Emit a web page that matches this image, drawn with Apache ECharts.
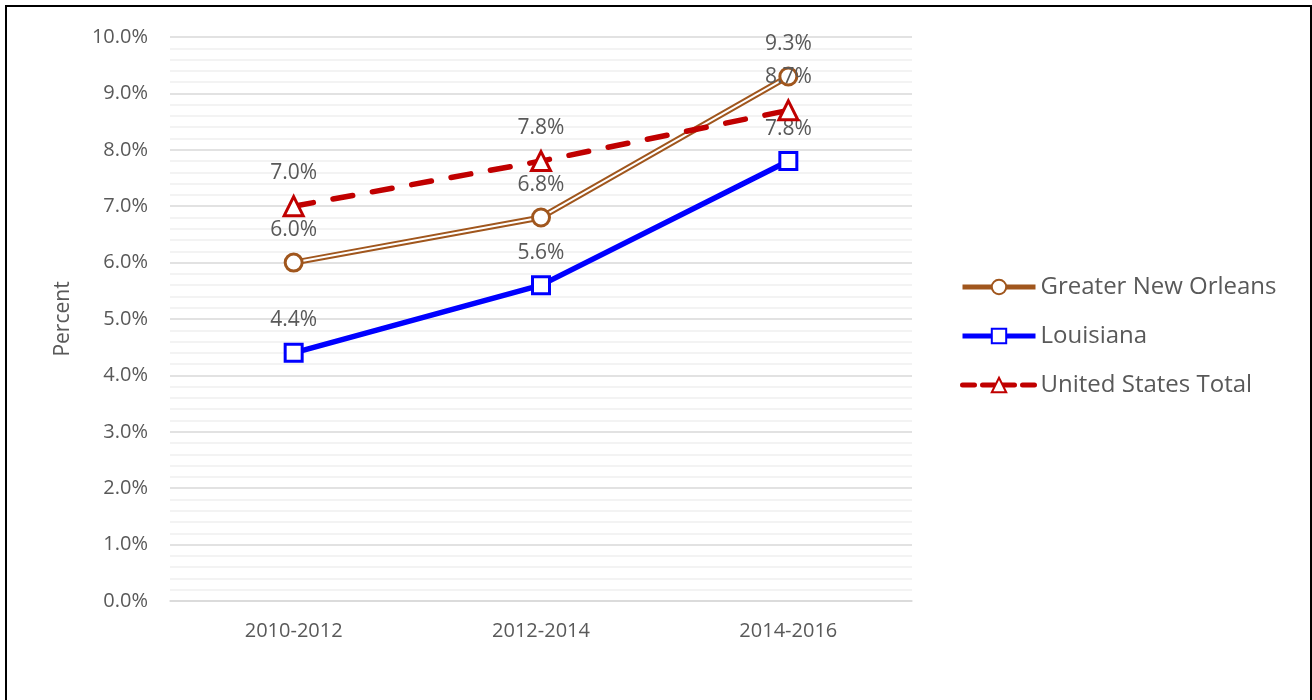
<!DOCTYPE html>
<html>
<head>
<meta charset="utf-8">
<script src="https://cdn.jsdelivr.net/npm/echarts@6/dist/echarts.min.js"></script>
<style>
  html, body { margin: 0; padding: 0; background: #fff; }
  #main { position: absolute; left: 0; top: 0; width: 1312px; height: 700px; }
  #frame { position: absolute; left: 5px; top: 5px; width: 1303px; height: 720px;
           border: 2px solid #000; pointer-events: none; }
</style>
</head>
<body>
<div id="main"></div>
<div id="frame"></div>
<script>
// 数据
var periods = ['2010-2012', '2012-2014', '2014-2016'];
var greaterNewOrleans = [6.0, 6.8, 9.3];
var louisiana = [4.4, 5.6, 7.8];
var unitedStates = [7.0, 7.8, 8.7];

var FONT = 'Open Sans';
var brown = '#a0561d';
var blue = '#0000ff';
var red = '#c00000';

var myChart = echarts.init(document.getElementById('main'));

function pct(p) {
  return p.value.toFixed(1) + '%';
}

var labelStyle = {
  show: true,
  position: 'top',
  distance: 12,
  color: '#595959',
  fontSize: 21,
  fontFamily: FONT,
  formatter: pct
};

var option = {
  animation: false,
  textStyle: { fontFamily: FONT },
  grid: { left: 170, right: 400, top: 37, bottom: 99 },
  legend: {
    orient: 'vertical',
    left: 955,
    top: 270,
    itemWidth: 73,
    itemHeight: 18,
    itemGap: 25,
    textStyle: { color: '#595959', fontSize: 24, fontFamily: FONT },
    data: [
      { name: 'Greater New Orleans', lineStyle: { width: 5 } },
      { name: 'Louisiana', lineStyle: { width: 5 } },
      { name: 'United States Total', lineStyle: { width: 5, type: [12, 8] } }
    ]
  },
  xAxis: {
    type: 'category',
    data: periods,
    boundaryGap: true,
    axisLine: { lineStyle: { color: '#d9d9d9', width: 1.5 } },
    axisTick: { show: false },
    axisLabel: { color: '#595959', fontSize: 20, margin: 20, fontFamily: FONT }
  },
  yAxis: {
    type: 'value',
    min: 0,
    max: 10,
    interval: 1,
    name: 'Percent',
    nameLocation: 'middle',
    nameGap: 96,
    nameTextStyle: { color: '#595959', fontSize: 21, fontFamily: FONT },
    axisLine: { show: false },
    axisTick: { show: false },
    axisLabel: {
      color: '#595959', fontSize: 20, margin: 22, fontFamily: FONT,
      formatter: function (v) { return v.toFixed(1) + '%'; }
    },
    splitLine: { lineStyle: { color: '#d9d9d9', width: 1.5 } },
    minorTick: { show: false, splitNumber: 5 },
    minorSplitLine: { show: true, lineStyle: { color: '#efefef', width: 1.5 } }
  },
  series: [{
    name: 'Greater New Orleans',
    type: 'line',
    data: greaterNewOrleans,
    z: 2,
    symbol: 'circle',
    symbolSize: 17,
    showSymbol: false,
    lineStyle: { color: brown, width: 6 },
    itemStyle: { color: '#fff', borderColor: brown, borderWidth: 3 }
  }, {
    name: 'gnoInner',
    type: 'line',
    data: greaterNewOrleans,
    z: 3,
    silent: true,
    showSymbol: false,
    lineStyle: { color: '#fff', width: 2 },
    itemStyle: { color: '#fff' }
  }, {
    name: 'Greater New Orleans',
    type: 'line',
    data: greaterNewOrleans,
    z: 4,
    symbol: 'circle',
    symbolSize: 17,
    lineStyle: { width: 0, opacity: 0 },
    itemStyle: { color: '#fff', borderColor: brown, borderWidth: 3 },
    label: labelStyle
  }, {
    name: 'Louisiana',
    type: 'line',
    data: louisiana,
    z: 5,
    symbol: 'rect',
    symbolSize: 17,
    lineStyle: { color: blue, width: 5.5 },
    itemStyle: { color: '#fff', borderColor: blue, borderWidth: 3 },
    label: labelStyle
  }, {
    name: 'United States Total',
    type: 'line',
    data: unitedStates,
    z: 6,
    symbol: 'triangle',
    symbolSize: 19,
    lineStyle: { color: red, width: 5.5, type: [20, 20], cap: 'round' },
    itemStyle: { color: '#fff', borderColor: red, borderWidth: 3 },
    label: labelStyle
  }]
};

myChart.setOption(option);
window.addEventListener('resize', function () {
  myChart.resize();
});
</script>
</body>
</html>
